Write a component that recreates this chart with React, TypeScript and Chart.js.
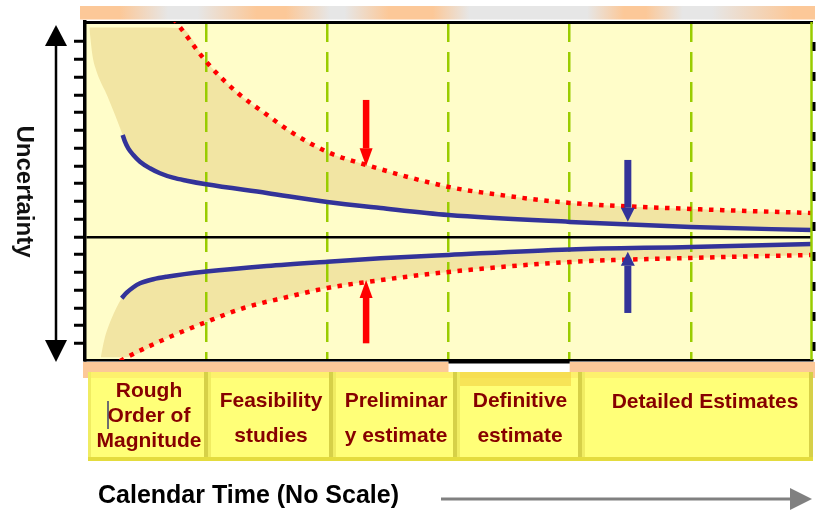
import React, { useEffect, useRef } from 'react';
import { Chart, registerables } from 'chart.js';

type Pt = [number, number];

// Calendar time runs 0..6 with one unit per phase column; uncertainty is in tick steps.
const phaseBoundaries = [0, 1, 2, 3, 4, 5, 6];
const uncertaintyTicks = [-6, -5, -4, -3, -2, -1, 0, 1, 2, 3, 4, 5, 6, 7, 8, 9, 10, 11];
const timeMin = 0;
const timeMax = 6;
const uncertaintyMin = -6.93;
const uncertaintyMax = 12.11;

// Outer range of possible cost (red dotted)
const upperRange: Pt[] = [
  [0.73, 12.3], [0.79, 11.77], [1.01, 9.8], [1.26, 8.11], [1.48, 6.99], [1.7, 5.92],
  [2.0, 4.79], [2.32, 4.06], [3.0, 2.82], [3.37, 2.42], [4.0, 1.92], [5.0, 1.58], [6.0, 1.35],
];
const lowerRange: Pt[] = [
  [0.29, -7.0], [0.35, -6.76], [0.68, -5.69], [1.0, -4.79], [1.31, -4.0], [1.67, -3.38],
  [2.0, -2.87], [2.32, -2.54], [3.0, -1.97], [4.0, -1.41], [5.0, -1.18], [6.0, -1.01],
];

// Estimate accuracy band (blue)
const upperEstimate: Pt[] = [
  [0.311, 5.75], [0.33, 5.37], [0.357, 4.99], [0.399, 4.62], [0.454, 4.24], [0.536, 3.87],
  [0.619, 3.59], [0.726, 3.34], [0.839, 3.17], [1.0, 2.97], [1.5, 2.48], [2.0, 1.97],
  [2.44, 1.63], [3.0, 1.24], [4.0, 0.85], [5.0, 0.56], [6.0, 0.39],
];
const lowerEstimate: Pt[] = [
  [0.303, -3.45], [0.344, -3.14], [0.399, -2.83], [0.454, -2.61], [0.564, -2.38], [0.674, -2.24],
  [1.0, -1.95], [1.5, -1.63], [2.0, -1.39], [2.44, -1.2], [3.0, -1.01], [4.0, -0.7], [5.0, -0.56], [6.0, -0.39],
];

// Left-hand edges of the shaded uncertainty band
const upperBandTop: Pt[] = [[0.036, 11.8], [0.5, 11.8]];
const upperBandLeft: Pt[] = [[0.036, 11.76], [0.063, 10.16], [0.091, 9.41], [0.187, 7.9]];
const lowerBandLeft: Pt[] = [[0.13, -6.78], [0.159, -5.8], [0.214, -4.68]];
const lowerBandBottom: Pt[] = [[0.13, -6.78], [0.3, -6.78]];

// Convergence arrows: x, tail value, head value
const rangeArrows = [
  { x: 2.32, from: 7.72, to: 3.98 },
  { x: 2.32, from: -5.99, to: -2.42 },
];
const estimateArrows = [
  { x: 4.48, from: 4.34, to: 0.86 },
  { x: 4.48, from: -4.28, to: -0.83 },
];

const phaseLabels: string[][] = [
  ['Rough', 'Order of', 'Magnitude'],
  ['Feasibility', 'studies'],
  ['Preliminar', 'y estimate'],
  ['Definitive', 'estimate'],
  ['Detailed Estimates'],
];
const yAxisTitle = 'Uncertainty';
const xAxisTitle = 'Calendar Time (No Scale)';

// ---- layout / styling ----
const FONT = '"Liberation Sans", Arial, Helvetica, sans-serif';
const PLOT_BG = '#fffdc9';
const SHADE = '#f2e5a3';
const RED = '#ff0000';
const BLUE = '#333399';
const GREEN = '#99cc00';
const PEACH = '#fcc898';
const LABEL_RED = '#860000';

const phaseBoxes = [
  { left: 88, right: 208, cx: 149 },
  { left: 208, right: 333, cx: 271 },
  { left: 333, right: 457, cx: 396 },
  { left: 457, right: 582, cx: 520 },
  { left: 582, right: 813, cx: 705 },
];
const boxTop = 372;
const boxBottom = 461;
const lineBaselines: Record<number, number[]> = {
  1: [408],
  2: [407, 442],
  3: [397, 422, 447],
};

const toPoints = (arr: Pt[]) => arr.map(([x, y]) => ({ x, y }));

// Paints the plot face before the filler draws the shaded band.
const plotBackground = {
  id: 'plotBackground',
  beforeDraw(chart: any) {
    const { ctx, chartArea: a } = chart;
    ctx.save();
    ctx.fillStyle = PLOT_BG;
    ctx.fillRect(a.left, a.top, a.right - a.left, a.bottom - a.top);
    ctx.restore();
  },
};
Chart.register(plotBackground, ...registerables);

function drawArrow(ctx: CanvasRenderingContext2D, x: number, y0: number, y1: number,
  shaft: number, headW: number, headL: number, color: string) {
  const dir = y1 > y0 ? 1 : -1;
  const base = y1 - dir * headL;
  ctx.fillStyle = color;
  ctx.fillRect(x - shaft / 2, Math.min(y0, base), shaft, Math.abs(base - y0));
  ctx.beginPath();
  ctx.moveTo(x - headW / 2, base);
  ctx.lineTo(x + headW / 2, base);
  ctx.lineTo(x, y1);
  ctx.closePath();
  ctx.fill();
}

const arrowsPlugin = {
  id: 'convergenceArrows',
  afterDatasetsDraw(chart: any) {
    const { ctx, chartArea: a } = chart;
    const xs = chart.scales.x;
    const ys = chart.scales.y;
    ctx.save();
    rangeArrows.forEach((r) => {
      drawArrow(ctx, xs.getPixelForValue(r.x), ys.getPixelForValue(r.from), ys.getPixelForValue(r.to), 6.5, 13, 18, RED);
    });
    estimateArrows.forEach((r) => {
      drawArrow(ctx, xs.getPixelForValue(r.x), ys.getPixelForValue(r.from), ys.getPixelForValue(r.to), 7, 14, 14, BLUE);
    });
    // right frame edge
    ctx.strokeStyle = GREEN;
    ctx.lineWidth = 2.5;
    ctx.beginPath();
    ctx.moveTo(a.right - 0.5, a.top);
    ctx.lineTo(a.right - 0.5, a.bottom);
    ctx.stroke();
    ctx.strokeStyle = '#000';
    ctx.lineWidth = 3;
    ctx.setLineDash([9, 21]);
    ctx.lineDashOffset = -20;
    ctx.beginPath();
    ctx.moveTo(a.right + 2, a.top);
    ctx.lineTo(a.right + 2, a.bottom);
    ctx.stroke();
    ctx.restore();
  },
};

const decorations = {
  id: 'decorations',
  afterDraw(chart: any) {
    const { ctx, chartArea: a } = chart;
    const xs = chart.scales.x;
    ctx.save();

    // gradient band above the plot
    const g = ctx.createLinearGradient(80, 0, 815, 0);
    const grey = '#e6e6e6';
    [[0, PEACH], [0.054, PEACH], [0.12, grey], [0.16, grey], [0.24, PEACH], [0.28, PEACH],
      [0.34, grey], [0.36, grey], [0.42, PEACH], [0.48, PEACH], [0.53, grey], [0.69, grey],
      [0.74, PEACH], [0.77, PEACH], [0.82, grey], [0.86, grey], [0.97, PEACH], [1, PEACH]]
      .forEach(([o, c]) => g.addColorStop(o as number, c as string));
    ctx.fillStyle = g;
    ctx.fillRect(80, 6, 735, 13.5);

    // vertical double-headed arrow
    ctx.fillStyle = '#000';
    ctx.strokeStyle = '#000';
    ctx.lineWidth = 2.5;
    ctx.beginPath();
    ctx.moveTo(56, 44);
    ctx.lineTo(56, 341);
    ctx.stroke();
    ctx.beginPath();
    ctx.moveTo(45, 46); ctx.lineTo(67, 46); ctx.lineTo(56, 25); ctx.closePath(); ctx.fill();
    ctx.beginPath();
    ctx.moveTo(45, 340); ctx.lineTo(67, 340); ctx.lineTo(56, 362); ctx.closePath(); ctx.fill();

    // axis title, reading downwards
    ctx.save();
    ctx.translate(17, 191.5);
    ctx.rotate(Math.PI / 2);
    ctx.font = `bold 24px ${FONT}`;
    ctx.textAlign = 'center';
    ctx.textBaseline = 'alphabetic';
    ctx.fillStyle = '#111';
    ctx.fillText(yAxisTitle, 0, 0);
    ctx.restore();

    // strip under the plot
    const gapL = xs.getPixelForValue(phaseBoundaries[3]);
    const gapR = xs.getPixelForValue(phaseBoundaries[4]);
    ctx.fillStyle = PEACH;
    ctx.fillRect(83, a.bottom + 2, gapL - 83, 16);
    ctx.fillRect(gapR, a.bottom + 2, 815 - gapR, 16);
    ctx.fillStyle = '#000';
    ctx.fillRect(gapL, a.bottom - 1, gapR - gapL, 4.5);

    // phase boxes
    phaseBoxes.forEach((b, i) => {
      const w = b.right - b.left;
      const h = boxBottom - boxTop;
      ctx.fillStyle = '#ffff78';
      ctx.fillRect(b.left, boxTop, w, h);
      ctx.fillStyle = 'rgba(250, 215, 90, 0.35)';
      ctx.fillRect(b.left, boxTop, w, 6);
      if (i === 3) {
        ctx.fillStyle = 'rgba(240, 205, 60, 0.55)';
        ctx.fillRect(b.left + 3, boxTop, w - 14, 14);
      }
      ctx.fillStyle = '#f0ec62';
      ctx.fillRect(b.left, boxTop, 3, h);
      ctx.fillStyle = '#d6d048';
      ctx.fillRect(b.right - 4, boxTop, 4, h);
      ctx.fillStyle = '#e4dc3e';
      ctx.fillRect(b.left, boxBottom - 4, w, 4);

      const lines = phaseLabels[i];
      const ys = lineBaselines[lines.length];
      ctx.font = `bold 21px ${FONT}`;
      ctx.textAlign = 'center';
      ctx.textBaseline = 'alphabetic';
      ctx.fillStyle = LABEL_RED;
      lines.forEach((t, k) => ctx.fillText(t, b.cx, ys[k]));
    });

    // text caret left in the first box
    ctx.strokeStyle = '#3c3c6e';
    ctx.lineWidth = 1.5;
    ctx.beginPath();
    ctx.moveTo(108, 401);
    ctx.lineTo(108, 429);
    ctx.stroke();

    // time axis caption and arrow
    ctx.font = `bold 25px ${FONT}`;
    ctx.textAlign = 'left';
    ctx.fillStyle = '#000';
    ctx.fillText(xAxisTitle, 98, 503);
    ctx.strokeStyle = '#808080';
    ctx.fillStyle = '#808080';
    ctx.lineWidth = 3;
    ctx.beginPath();
    ctx.moveTo(441, 499);
    ctx.lineTo(792, 499);
    ctx.stroke();
    ctx.beginPath();
    ctx.moveTo(790, 488); ctx.lineTo(812, 499); ctx.lineTo(790, 510); ctx.closePath(); ctx.fill();

    ctx.restore();
  },
};

const curve = {
  pointRadius: 0,
  fill: false,
  cubicInterpolationMode: 'monotone' as const,
  xAxisID: 'x',
  yAxisID: 'y',
};

export default function App() {
  const canvasRef = useRef<HTMLCanvasElement>(null);

  useEffect(() => {
    if (!canvasRef.current) return;
    const datasets: any[] = [
      { ...curve, label: 'Upper estimate', data: toPoints(upperEstimate), borderColor: BLUE, borderWidth: 4.5, borderCapStyle: 'butt' },
      { ...curve, label: 'Lower estimate', data: toPoints(lowerEstimate), borderColor: BLUE, borderWidth: 4.5, borderCapStyle: 'butt' },
      { ...curve, label: 'Upper range', data: toPoints(upperRange), borderColor: RED, borderWidth: 4.5, borderDash: [4.5, 6.5], borderCapStyle: 'butt' },
      { ...curve, label: 'Lower range', data: toPoints(lowerRange), borderColor: RED, borderWidth: 4.5, borderDash: [4.5, 6.5], borderCapStyle: 'butt' },
      {
        ...curve, label: 'Upper band outer',
        data: toPoints([...upperBandTop, ...upperRange.filter(([, y]) => y <= upperBandTop[0][1])]),
        borderWidth: 0, borderColor: 'transparent', backgroundColor: SHADE, fill: '+1',
      },
      {
        ...curve, label: 'Upper band inner',
        data: toPoints([...upperBandLeft, ...upperEstimate]),
        borderWidth: 0, borderColor: 'transparent',
      },
      {
        ...curve, label: 'Lower band inner',
        data: toPoints([...lowerBandLeft, ...lowerEstimate]),
        borderWidth: 0, borderColor: 'transparent', backgroundColor: SHADE, fill: '+1',
      },
      {
        ...curve, label: 'Lower band outer',
        data: toPoints([...lowerBandBottom, ...lowerRange.filter(([, y]) => y >= lowerBandBottom[0][1])]),
        borderWidth: 0, borderColor: 'transparent',
      },
    ];

    const chart = new Chart(canvasRef.current, {
      type: 'line',
      data: { datasets },
      options: {
        responsive: false,
        animation: false,
        events: [],
        devicePixelRatio: 1,
        layout: { padding: { left: 74, top: 22, right: 5, bottom: 152 } },
        plugins: {
          legend: { display: false },
          tooltip: { enabled: false },
          filler: { drawTime: 'beforeDraw', propagate: false },
        },
        scales: {
          x: {
            type: 'linear',
            position: 'bottom',
            min: timeMin,
            max: timeMax,
            afterBuildTicks: (axis: any) => { axis.ticks = phaseBoundaries.map((v) => ({ value: v })); },
            ticks: { display: false },
            grid: {
              drawTicks: false,
              lineWidth: 2.5,
              color: (c: any) => (c.tick && c.tick.value > timeMin && c.tick.value < timeMax ? GREEN : 'transparent'),
            },
            border: { display: true, color: '#000', width: 2.5, dash: [20, 10] },
          },
          xTop: {
            type: 'linear',
            axis: 'x',
            position: 'top',
            min: timeMin,
            max: timeMax,
            ticks: { display: false },
            grid: { display: false, drawTicks: false },
            border: { display: true, color: '#000', width: 3 },
          },
          y: {
            type: 'linear',
            position: 'left',
            min: uncertaintyMin,
            max: uncertaintyMax,
            afterBuildTicks: (axis: any) => { axis.ticks = uncertaintyTicks.map((v) => ({ value: v })); },
            ticks: { display: false },
            grid: {
              drawTicks: true,
              tickLength: 11,
              tickWidth: 3,
              tickColor: '#000',
              lineWidth: 2.5,
              color: (c: any) => (c.tick && c.tick.value === 0 ? '#000' : 'transparent'),
            },
            border: { display: true, color: '#000', width: 3.5 },
          },
        },
      },
      plugins: [arrowsPlugin, decorations],
    } as any);

    return () => chart.destroy();
  }, []);

  return (
    <div style={{ position: 'fixed', left: 0, top: 0, width: 817, height: 512, background: '#fff' }}>
      <canvas ref={canvasRef} width={817} height={512} style={{ display: 'block', width: 817, height: 512 }} />
    </div>
  );
}
